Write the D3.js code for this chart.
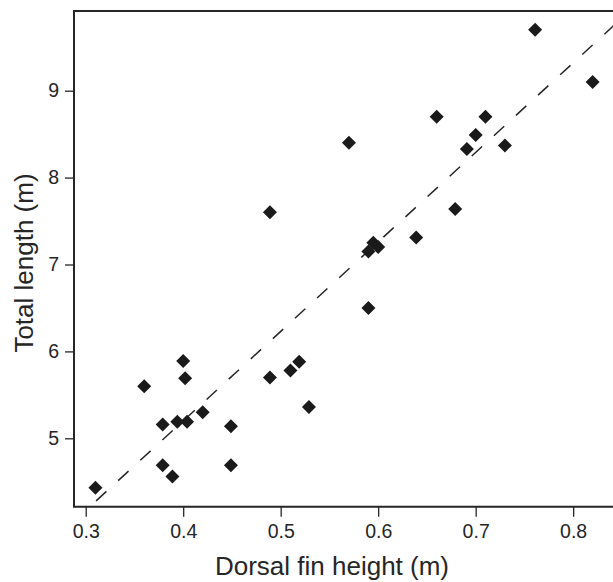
<html>
<head>
    <meta charset="utf-8">
    <title>Dorsal fin height vs total length</title>
    <script src="https://d3js.org/d3.v7.min.js"></script>
    <style>
        body { margin: 0; background: #fff; }
    </style>
</head>
<body>
    <script type="text/javascript">
    // values
    const finHeight = [0.31, 0.36, 0.379, 0.379, 0.389, 0.394, 0.40, 0.402, 0.404, 0.42,
                       0.449, 0.449, 0.489, 0.489, 0.51, 0.519, 0.529, 0.57, 0.59, 0.59,
                       0.595, 0.60, 0.639, 0.66, 0.679, 0.691, 0.70, 0.71, 0.73, 0.761, 0.82];
    const totalLength = [4.43, 5.60, 5.16, 4.69, 4.56, 5.19, 5.89, 5.69, 5.19, 5.30,
                         5.14, 4.69, 7.60, 5.70, 5.78, 5.88, 5.36, 8.40, 6.50, 7.15,
                         7.25, 7.20, 7.31, 8.70, 7.64, 8.33, 8.49, 8.70, 8.37, 9.70, 9.10];
    const xTicks = [0.3, 0.4, 0.5, 0.6, 0.7, 0.8];
    const yTicks = [5, 6, 7, 8, 9];
    const fitLine = {slope: 10.3, intercept: 1.08};

    const width = 613, height = 582;
    const box = {left: 74, top: 11, bottom: 506.7, right: 618};
    const ink = "#262626";
    const font = "'Liberation Sans', Arial, Helvetica, sans-serif";

    const x = d3.scaleLinear().domain([0.288, 0.846]).range([box.left, box.right]);
    const y = d3.scaleLinear().domain([4.213, 9.917]).range([box.bottom, box.top]);

    const svg = d3.select("body").append("svg")
        .attr("width", width)
        .attr("height", height)
        .style("font-family", font);

    svg.append("clipPath").attr("id", "plot")
        .append("rect")
        .attr("x", box.left).attr("y", box.top)
        .attr("width", box.right - box.left).attr("height", box.bottom - box.top);

    // dashed fit line
    const x0 = x.domain()[0], x1 = x.domain()[1];
    svg.append("line")
        .attr("clip-path", "url(#plot)")
        .attr("x1", x(x0)).attr("y1", y(fitLine.intercept + fitLine.slope * x0))
        .attr("x2", x(x1)).attr("y2", y(fitLine.intercept + fitLine.slope * x1))
        .attr("stroke", ink)
        .attr("stroke-width", 1.5)
        .attr("stroke-dasharray", "14,16");

    // diamonds
    const diamond = d3.symbol().type(d3.symbolSquare).size(98);
    svg.append("g").selectAll("path")
        .data(finHeight.map((f, i) => [f, totalLength[i]]))
        .join("path")
        .attr("d", diamond)
        .attr("transform", d => `translate(${x(d[0])},${y(d[1])}) rotate(45)`)
        .attr("fill", "#1a1a1a");

    // axes
    const xAxis = svg.append("g")
        .attr("transform", `translate(0,${box.bottom})`)
        .call(d3.axisBottom(x).tickValues(xTicks).tickSize(10).tickPadding(7)
            .tickFormat(d3.format(".1f")));
    const yAxis = svg.append("g")
        .attr("transform", `translate(${box.left},0)`)
        .call(d3.axisLeft(y).tickValues(yTicks).tickSize(9).tickPadding(6)
            .tickFormat(d3.format("d")));

    [xAxis, yAxis].forEach(g => {
        g.select(".domain").remove();
        g.selectAll("line").attr("stroke", ink).attr("stroke-width", 1.3);
        g.selectAll("text").attr("fill", ink).style("font-size", "19.5px").style("font-family", font);
    });

    // frame (right edge falls outside the picture)
    svg.append("path")
        .attr("d", `M${box.right},${box.top}H${box.left}V${box.bottom}H${box.right}`)
        .attr("fill", "none")
        .attr("stroke", ink)
        .attr("stroke-width", 2);

    svg.append("text")
        .attr("x", 332)
        .attr("y", 575)
        .attr("text-anchor", "middle")
        .attr("fill", ink)
        .style("font-size", "26px")
        .text("Dorsal fin height (m)");

    svg.append("text")
        .attr("transform", "translate(33,263) rotate(-90)")
        .attr("text-anchor", "middle")
        .attr("fill", ink)
        .style("font-size", "26px")
        .text("Total length (m)");
    </script>
</body>
</html>
